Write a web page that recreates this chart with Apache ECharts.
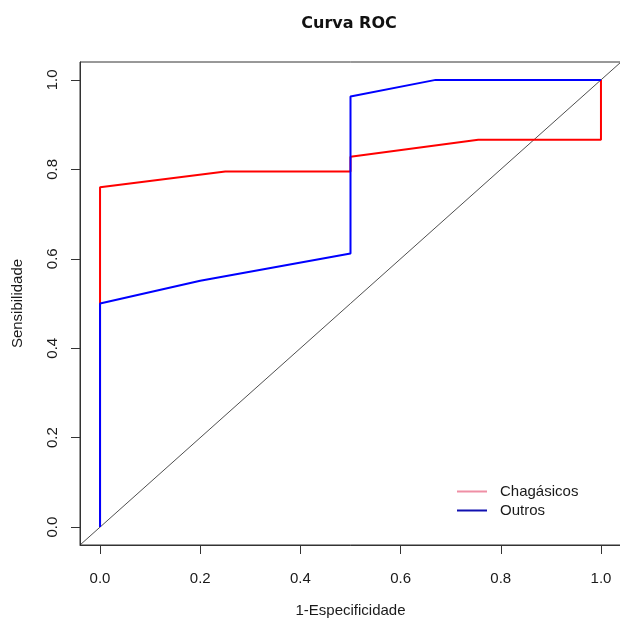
<!DOCTYPE html>
<html>
<head>
<meta charset="utf-8">
<script src="https://cdn.jsdelivr.net/npm/echarts@6/dist/echarts.min.js"></script>
<style>
  html, body { margin: 0; padding: 0; background: #ffffff; }
  #chart { width: 620px; height: 619px; }
</style>
</head>
<body>
<div id="chart"></div>
<script>
// ---- Data ----
const titleText = 'Curva ROC';
const xAxisTitle = '1-Especificidade';
const yAxisTitle = 'Sensibilidade';
const tickValues = [0, 0.2, 0.4, 0.6, 0.8, 1.0];
const seriesNames = ['Chagásicos', 'Outros'];

// Chagásicos (red) ROC curve
const chagasX = [0, 0, 0.25, 0.5, 0.5, 0.755, 1.0, 1.0];
const chagasY = [0, 0.76, 0.795, 0.795, 0.828, 0.866, 0.866, 1.0];

// Outros (blue) ROC curve
const outrosX = [0, 0, 0.2, 0.5, 0.5, 0.67, 1.0];
const outrosY = [0, 0.5, 0.551, 0.612, 0.963, 1.0, 1.0];

// Reference diagonal (y = x) across the whole plot region
const diagX = [-0.04, 1.04];
const diagY = [-0.04, 1.04];

const zip = (xs, ys) => xs.map((x, i) => [x, ys[i]]);

const chart = echarts.init(document.getElementById('chart'), null, { renderer: 'canvas' });
const font = 'Liberation Sans, Arial, Helvetica, sans-serif';
const axisColor = '#333333';
const textColor = '#1a1a1a';

chart.setOption({
  animation: false,
  backgroundColor: '#ffffff',
  title: {
    text: titleText,
    left: 349,
    top: 16,
    textAlign: 'center',
    padding: 0,
    textStyle: { fontFamily: 'DejaVu Sans, sans-serif', fontWeight: 'bold', fontSize: 16, color: '#111111' }
  },
  legend: {
    orient: 'vertical',
    left: 457,
    top: 484,
    itemWidth: 30,
    itemHeight: 2,
    itemGap: 4,
    padding: 0,
    textStyle: { fontFamily: font, fontSize: 15, color: textColor, padding: [0, 0, 0, 8] },
    data: [
      { name: seriesNames[0], icon: 'rect', itemStyle: { color: '#ef8fa5' } },
      { name: seriesNames[1], icon: 'rect', itemStyle: { color: '#1010b0' } }
    ]
  },
  grid: {
    left: 80, top: 62, width: 541, height: 483,
    containLabel: false,
    outerBoundsMode: 'none',
    show: true, borderColor: axisColor, borderWidth: 1, backgroundColor: 'transparent'
  },
  xAxis: {
    type: 'value', min: -0.04, max: 1.04,
    name: xAxisTitle, nameLocation: 'middle', nameGap: 58,
    nameTextStyle: { fontFamily: font, fontSize: 15, color: textColor },
    axisLine: { show: true, onZero: false, lineStyle: { color: axisColor, width: 1 } },
    axisTick: { show: true, customValues: tickValues, length: 9, lineStyle: { color: axisColor } },
    axisLabel: {
      customValues: tickValues, margin: 26,
      formatter: v => v.toFixed(1),
      fontFamily: font, fontSize: 15, color: textColor
    },
    splitLine: { show: false }
  },
  yAxis: {
    type: 'value', min: -0.04, max: 1.04,
    name: yAxisTitle, nameLocation: 'middle', nameGap: 55, nameRotate: 90,
    nameTextStyle: { fontFamily: font, fontSize: 15, color: textColor },
    axisLine: { show: true, onZero: false, lineStyle: { color: axisColor, width: 1 } },
    axisTick: { show: true, customValues: tickValues, length: 9, lineStyle: { color: axisColor } },
    axisLabel: {
      customValues: tickValues, margin: 20, rotate: 90,
      formatter: v => v.toFixed(1),
      fontFamily: font, fontSize: 15, color: textColor
    },
    splitLine: { show: false }
  },
  series: [
    {
      name: 'diagonal', type: 'line', data: zip(diagX, diagY),
      symbol: 'none', silent: true, z: 1,
      lineStyle: { color: '#222222', width: 0.8 }
    },
    {
      name: seriesNames[0], type: 'line', data: zip(chagasX, chagasY),
      symbol: 'none', z: 2,
      lineStyle: { color: '#ff0000', width: 2 }, itemStyle: { color: '#ff0000' }
    },
    {
      name: seriesNames[1], type: 'line', data: zip(outrosX, outrosY),
      symbol: 'none', z: 3,
      lineStyle: { color: '#0000ff', width: 2 }, itemStyle: { color: '#0000ff' }
    }
  ]
});
</script>
</body>
</html>
